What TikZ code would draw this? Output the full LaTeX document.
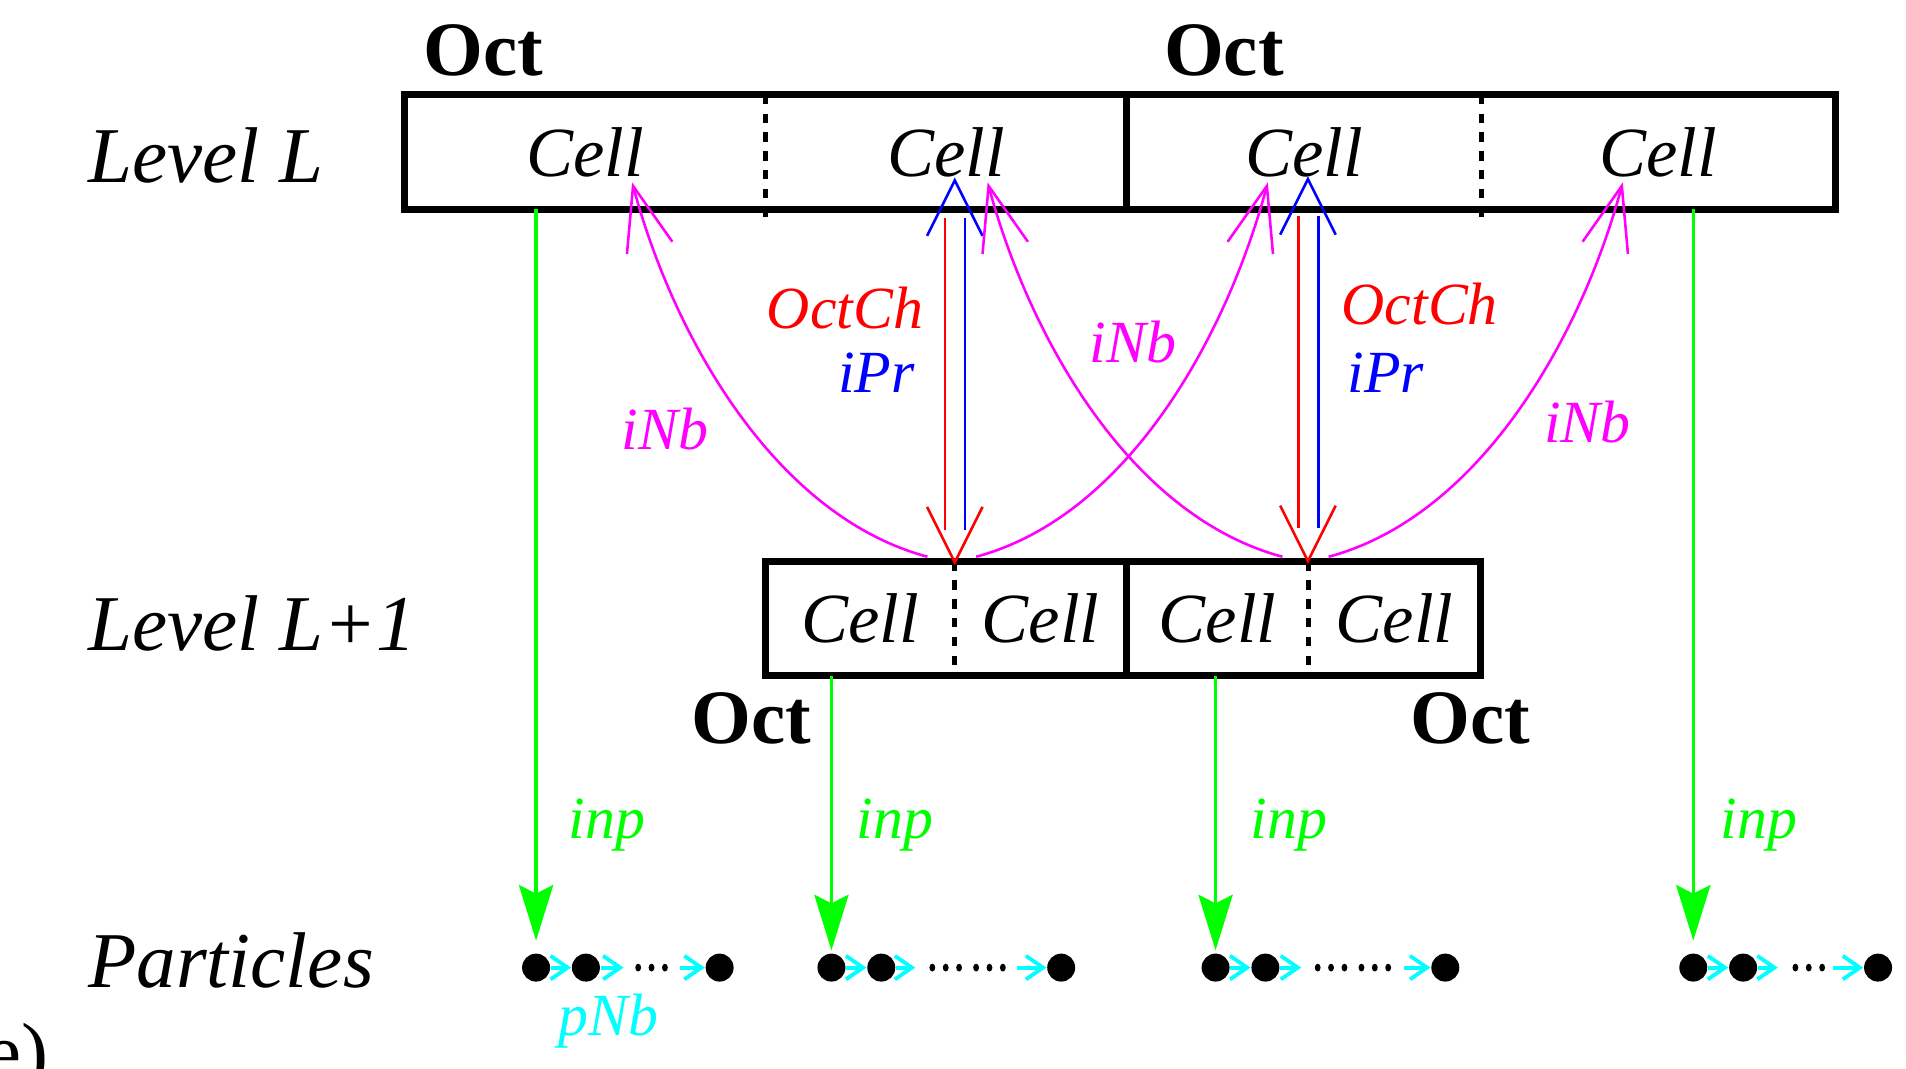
\documentclass[tikz,border=0pt]{standalone}
\usepackage{fontspec}
\setmainfont{Liberation Serif}
\usepackage{tikz}
\usetikzlibrary{arrows.meta,positioning}
\definecolor{figmagenta}{RGB}{255,0,255}
\definecolor{figcyan}{RGB}{0,255,255}
\definecolor{figgreen}{RGB}{0,255,0}
\definecolor{figred}{RGB}{255,0,0}
\definecolor{figblue}{RGB}{0,0,255}

\begin{document}
\begin{tikzpicture}[cellbox/.style={minimum height=0.94cm, inner sep=0, outer sep=0, font=\fontsize{16.5}{19}\selectfont\itshape},
octline/.style={line width=1.6pt},
divider/.style={line width=1.2pt, dash pattern=on 2.2pt off 2.2pt},
octlabel/.style={font=\fontsize{18}{21}\selectfont\bfseries, inner sep=0, anchor=base west},
levellabel/.style={font=\fontsize{18.5}{22}\selectfont\itshape, inner sep=0, anchor=base west},
arrlabel/.style={font=\fontsize{14}{16}\selectfont\itshape, inner sep=0},
octch/.style={figred, line width=0.6pt},
ipr/.style={figblue, line width=0.6pt},
vtip/.style={-{Straight Barb[length=13pt,width=13pt]}},
inb/.style={figmagenta, line width=0.6pt, -{Straight Barb[length=15pt,width=11pt]}},
inp/.style={figgreen, line width=0.75pt, -{Stealth[length=13pt,width=8pt,inset=2pt]}},
pnb/.style={figcyan, line width=0.9pt, -{Straight Barb[length=4pt,width=5.5pt]}},
particle/.style={circle, fill, inner sep=0, minimum size=0.23cm}]
\useasboundingbox (0,0) rectangle (15.68,8.79);
%level L
\node[levellabel] (lvl1) at (0.72,7.29) {Level L};
\node[cellbox, minimum width=2.97cm] (c1) at (4.815,7.54) {Cell};
\node[cellbox, minimum width=2.97cm, right=0pt of c1] (c2) {Cell};
\node[cellbox, minimum width=2.915cm, right=0pt of c2] (c3) {Cell};
\node[cellbox, minimum width=2.915cm, right=0pt of c3] (c4) {Cell};
\draw[octline] (c1.south west) rectangle (c2.north east);
\draw[octline] (c3.south west) rectangle (c4.north east);
\draw[divider] (c1.north east) -- ([yshift=-0.07cm]c1.south east);
\draw[divider] (c3.north east) -- ([yshift=-0.07cm]c3.south east);
\node[octlabel] (oct1) at (3.48,8.17) {Oct};
\node[octlabel] (oct2) at (9.57,8.17) {Oct};
%level L+1
\node[levellabel] (lvl2) at (0.72,3.44) {Level L+1};
\node[cellbox, minimum width=1.55cm] (l1) at (7.075,3.70) {Cell};
\node[cellbox, minimum width=1.42cm, right=0pt of l1] (l2) {Cell};
\node[cellbox, minimum width=1.495cm, right=0pt of l2] (l3) {Cell};
\node[cellbox, minimum width=1.415cm, right=0pt of l3] (l4) {Cell};
\draw[octline] (l1.south west) rectangle (l2.north east);
\draw[octline] (l3.south west) rectangle (l4.north east);
\draw[divider] (l1.north east) -- ([yshift=0.08cm]l1.south east);
\draw[divider] (l3.north east) -- ([yshift=0.08cm]l3.south east);
\node[octlabel] (oct3) at (5.68,2.67) {Oct};
\node[octlabel] (oct4) at (11.60,2.67) {Oct};
%OctCh / iPr
\coordinate (r1a) at (7.775,7.00);
\coordinate (r1b) at (7.775,4.43);
\coordinate (b1a) at (7.94,4.43);
\coordinate (b1b) at (7.94,7.00);
\coordinate (r2a) at (10.68,7.01);
\coordinate (r2b) at (10.68,4.45);
\coordinate (b2a) at (10.845,4.45);
\coordinate (b2b) at (10.845,7.01);
\coordinate (o1) at (7.855,4.14);
\coordinate (o2) at (10.76,4.15);
\coordinate (u1) at (7.855,7.33);
\coordinate (u2) at (10.76,7.34);
\draw[octch] (r1a) -- (r1b);
\draw[octch, vtip] ([yshift=0.02cm]o1) -- (o1);
\draw[ipr] (b1a) -- (b1b);
\draw[ipr, vtip] ([yshift=-0.02cm]u1) -- (u1);
\draw[octch] (r2a) -- (r2b);
\draw[octch, vtip] ([yshift=0.02cm]o2) -- (o2);
\draw[ipr] (b2a) -- (b2b);
\draw[ipr, vtip] ([yshift=-0.02cm]u2) -- (u2);
\node[arrlabel, figred, anchor=east] (och1) at (7.60,6.26) {OctCh};
\node[arrlabel, figblue, anchor=east] (ipr1) at (7.53,5.72) {iPr};
\node[arrlabel, figred, anchor=west] (och2) at (11.03,6.29) {OctCh};
\node[arrlabel, figblue, anchor=west] (ipr2) at (11.08,5.72) {iPr};
%iNb
\coordinate (k1l) at (7.63,4.21);
\coordinate (k1r) at (8.03,4.21);
\coordinate (k2l) at (10.55,4.21);
\coordinate (k2r) at (10.93,4.21);
\coordinate (n1) at (5.20,7.29);
\coordinate (n2) at (8.125,7.29);
\coordinate (n3) at (10.43,7.29);
\coordinate (n4) at (13.35,7.29);
\draw[inb] (k1l) to[out=165, in=-75, looseness=0.85] (n1);
\draw[inb] (k1r) to[out=15, in=-105, looseness=0.85] (n3);
\draw[inb] (k2l) to[out=165, in=-75, looseness=0.85] (n2);
\draw[inb] (k2r) to[out=15, in=-105, looseness=0.85] (n4);
\node[arrlabel, figmagenta] (nb1) at (5.47,5.26) {iNb};
\node[arrlabel, figmagenta] (nb2) at (9.32,5.98) {iNb};
\node[arrlabel, figmagenta] (nb3) at (13.06,5.32) {iNb};
%particles
\node[levellabel] (lvl3) at (0.72,0.67) {Particles};
\node[particle] (pa1) at (4.41,0.83) {};
\node[particle] (pb1) at (4.82,0.83) {};
\node[particle] (pc1) at (5.92,0.83) {};
\node[particle] (pa2) at (6.84,0.83) {};
\node[particle] (pb2) at (7.25,0.83) {};
\node[particle] (pc2) at (8.73,0.83) {};
\node[particle] (pa3) at (10.00,0.83) {};
\node[particle] (pb3) at (10.41,0.83) {};
\node[particle] (pc3) at (11.89,0.83) {};
\node[particle] (pa4) at (13.93,0.83) {};
\node[particle] (pb4) at (14.34,0.83) {};
\node[particle] (pc4) at (15.45,0.83) {};
\coordinate (q1) at (5.13,0.83);
\coordinate (s1) at (5.59,0.83);
\coordinate (q2) at (7.53,0.83);
\coordinate (s2) at (8.37,0.83);
\coordinate (q3) at (10.705,0.83);
\coordinate (s3) at (11.55,0.83);
\coordinate (q4) at (14.625,0.83);
\coordinate (s4) at (15.08,0.83);
\foreach \x in {5.25,5.36,5.47,7.67,7.78,7.89,8.03,8.14,8.25,10.84,10.95,11.06,11.20,11.31,11.42,14.77,14.88,14.99}
  \fill (\x,0.83) ellipse (0.024 and 0.032);
\draw[pnb] (pa1) -- (pb1);
\draw[pnb] (pb1) -- (q1);
\draw[pnb] (s1) -- (pc1);
\draw[pnb] (pa2) -- (pb2);
\draw[pnb] (pb2) -- (q2);
\draw[pnb] (s2) -- (pc2);
\draw[pnb] (pa3) -- (pb3);
\draw[pnb] (pb3) -- (q3);
\draw[pnb] (s3) -- (pc3);
\draw[pnb] (pa4) -- (pb4);
\draw[pnb] (pb4) -- (q4);
\draw[pnb] (s4) -- (pc4);
\node[arrlabel, figcyan, anchor=base west] (pnb1) at (4.59,0.27) {pNb};
%inp
\draw[inp, shorten >=0.1cm] (pa1 |- c1.south) -- (pa1);
\draw[inp, shorten >=0.02cm] (pa2 |- l1.south) -- (pa2);
\draw[inp, shorten >=0.02cm] (pa3 |- l3.south) -- (pa3);
\draw[inp, shorten >=0.1cm] (pa4 |- c4.south) -- (pa4);
\node[arrlabel, figgreen, anchor=base west] (inp1) at (4.67,1.89) {inp};
\node[arrlabel, figgreen, anchor=base west] (inp2) at (7.04,1.89) {inp};
\node[arrlabel, figgreen, anchor=base west] (inp3) at (10.28,1.89) {inp};
\node[arrlabel, figgreen, anchor=base west] (inp4) at (14.15,1.89) {inp};
\node[font=\fontsize{19}{22}\selectfont, inner sep=0, anchor=base west] (tag) at (-0.13,-0.09) {e)};
\end{tikzpicture}
\end{document}
